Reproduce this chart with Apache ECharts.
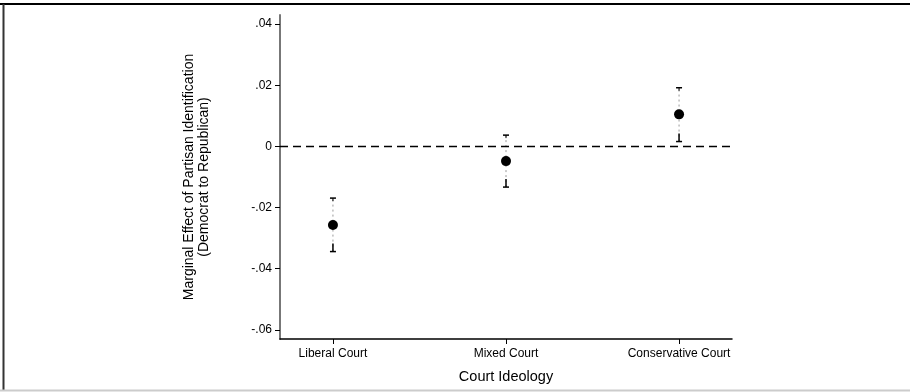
<!DOCTYPE html>
<html>
<head>
<meta charset="utf-8">
<script src="https://cdn.jsdelivr.net/npm/echarts@6/dist/echarts.min.js"></script>
<style>html,body{margin:0;padding:0;background:#fff;}#c{width:910px;height:392px;}</style>
</head>
<body>
<div id="c"></div>
<script>
var categories = ['Liberal Court', 'Mixed Court', 'Conservative Court'];
var estimates = [-0.0257, -0.0048, 0.0105];
var upperCI = [-0.0169, 0.0037, 0.0192];
var lowerCI = [-0.0344, -0.0133, 0.0016];
var yTicks = [-0.06, -0.04, -0.02, 0, 0.02, 0.04];

function fmt(v) {
  if (Math.abs(v) < 1e-9) return '0';
  var s = v.toFixed(2);
  return s.replace('0.', '.');
}

var chart = echarts.init(document.getElementById('c'), null, {renderer: 'canvas'});
var font = 'Liberation Sans, Arial, sans-serif';

var points = categories.map(function (c, i) { return [i + 1, estimates[i]]; });
var bars = categories.map(function (c, i) { return [i + 1, lowerCI[i], upperCI[i]]; });

chart.setOption({
  animation: false,
  grid: {left: 280, top: 15, right: 178, bottom: 53},
  xAxis: {
    type: 'value', min: 0.694, max: 3.306,
    name: 'Court Ideology', nameLocation: 'middle', nameGap: 30,
    nameTextStyle: {fontFamily: font, fontSize: 14.5, color: '#000'},
    axisLine: {onZero: false, lineStyle: {color: '#000', width: 1.5}},
    axisTick: {customValues: [1, 2, 3], length: 5, lineStyle: {color: '#000'}},
    axisLabel: {customValues: [1, 2, 3], formatter: function (v) { return categories[Math.round(v) - 1]; },
      fontFamily: font, fontSize: 12, color: '#000', margin: 9},
    splitLine: {show: false}
  },
  yAxis: {
    type: 'value', min: -0.063, max: 0.043,
    name: 'Marginal Effect of Partisan Identification\n(Democrat to Republican)',
    nameLocation: 'middle', nameGap: 68, nameRotate: 90,
    nameTextStyle: {fontFamily: font, fontSize: 14, color: '#000', lineHeight: 15},
    axisLine: {show: true, onZero: false, lineStyle: {color: '#777', width: 2}},
    axisTick: {show: true, customValues: yTicks, length: 5, lineStyle: {color: '#000'}},
    axisLabel: {customValues: yTicks, formatter: fmt, fontFamily: font, fontSize: 12, color: '#000', margin: 8},
    splitLine: {show: false}
  },
  series: [
    {
      type: 'line', data: [[0.694, 0], [3.306, 0]], symbol: 'none', silent: true,
      lineStyle: {color: '#000', width: 1.5, type: [8, 5]}
    },
    {
      type: 'custom', data: bars, silent: true,
      renderItem: function (params, api) {
        var x = api.value(0);
        var lo = api.coord([x, api.value(1)]);
        var hi = api.coord([x, api.value(2)]);
        var w = 3;
        return {
          type: 'group',
          children: [
            {type: 'line', shape: {x1: lo[0], y1: lo[1], x2: hi[0], y2: hi[1]},
             style: {stroke: '#999', lineWidth: 1, lineDash: [2, 3]}},
            {type: 'line', shape: {x1: hi[0] - w, y1: hi[1], x2: hi[0] + w, y2: hi[1]},
             style: {stroke: '#000', lineWidth: 1.5}},
            {type: 'line', shape: {x1: hi[0], y1: hi[1], x2: hi[0], y2: hi[1] + 3},
             style: {stroke: '#000', lineWidth: 1}},
            {type: 'line', shape: {x1: lo[0] - w, y1: lo[1], x2: lo[0] + w, y2: lo[1]},
             style: {stroke: '#000', lineWidth: 1.5}},
            {type: 'line', shape: {x1: lo[0], y1: lo[1], x2: lo[0], y2: lo[1] - 8},
             style: {stroke: '#000', lineWidth: 1.5}}
          ]
        };
      }
    },
    {
      type: 'scatter', data: points, symbol: 'circle', symbolSize: 10,
      itemStyle: {color: '#000', opacity: 1}, silent: true
    }
  ],
  graphic: [
    {type: 'line', shape: {x1: 0, y1: 4, x2: 910, y2: 4}, style: {stroke: '#000', lineWidth: 2}},
    {type: 'line', shape: {x1: 3.5, y1: 4, x2: 3.5, y2: 390}, style: {stroke: '#333', lineWidth: 2}},
    {type: 'line', shape: {x1: 0, y1: 390.5, x2: 910, y2: 390.5}, style: {stroke: '#ccc', lineWidth: 2}}
  ]
});
</script>
</body>
</html>
